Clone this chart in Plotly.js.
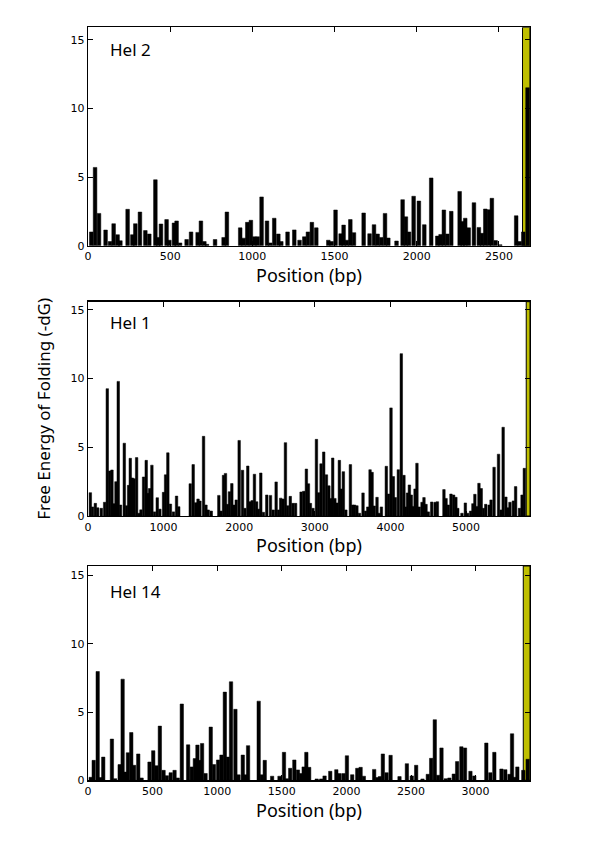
<!DOCTYPE html>
<html>
<head>
<meta charset="utf-8">
<script src="https://cdn.plot.ly/plotly-3.0.1.min.js"></script>
<style>html,body{margin:0;padding:0;background:#fff;}#chart{width:600px;height:854px;}</style>
</head>
<body>
<div id="chart"></div>
<script>
// ---------- Hel 2 ----------
var hel2Pos = [20,43,67,107,134,156,180,197,241,270,288,316,349,373,410,428,444,478,495,523,539,560,600,627,667,687,708,724,773,825,845,926,947,969,991,1012,1032,1056,1089,1109,1133,1158,1176,1214,1255,1287,
  1316,1338,1362,1389,1462,1482,1506,1537,1555,1575,1596,1618,1677,1713,1740,1762,1784,1807,1827,1877,1914,1934,1953,1981,2013,2046,2088,2125,2145,2165,2186,2210,2261,2279,2295,2316,2348,2378,2397,2417,2439,2457,2480,2508,2605,2626,2648,2674];
var hel2Val = [1.0,5.7,2.35,1.14,0.3,1.6,0.8,0.36,2.65,0.8,1.6,2.45,1.1,0.85,4.8,0.6,1.58,1.9,0.4,1.65,1.8,0.2,0.45,1.0,0.97,1.8,0.3,0.1,0.45,0.6,2.45,1.3,0.55,1.7,1.85,0.65,0.65,3.55,1.8,0.2,2.0,0.85,0.3,1.0,1.15,0.4,
  0.65,1.0,1.7,1.3,0.4,0.3,2.6,0.87,1.5,0.4,1.9,0.95,2.38,0.87,1.53,0.85,0.6,2.35,0.56,0.34,3.35,2.1,1.0,3.6,3.25,1.53,4.93,0.7,0.82,2.6,0.85,2.5,3.95,1.77,2.0,1.3,3.13,1.33,0.9,2.67,2.62,3.45,0.37,0.07,2.18,0.3,1.0,11.5];
var hel2HlPos = [2666];
var hel2HlWidth = [45];
var hel2Max = 15.9;
var hel2Len = 2689;
var hel2Ticks = [0,500,1000,1500,2000,2500];

// ---------- Hel 1 ----------
var hel1Pos = [31,60,97,128,176,220,255,286,317,345,370,400,430,480,510,537,559,585,610,643,672,700,735,770,790,815,845,880,916,950,999,1026,1056,1090,1130,1171,1200,1352,1391,1425,1455,1480,1528,1560,1590,1630,1730,1760,1792,1818,1845,1871,1902,1930,1960,1999,2043,2075,2113,2145,2170,2201,2230,2255,2285,2320,2364,2413,2450,2488,2520,2548,2580,2611,2640,2675,2710,2745,2818,2853,2888,2915,2941,2975,
  3021,3050,3082,3117,3153,3185,3210,3236,3265,3295,3324,3350,3377,3410,3470,3500,3525,3556,3590,3637,3670,3700,3730,3757,3785,3822,3850,3880,3945,3975,4007,4038,4064,4104,4143,4178,4200,4225,4250,4275,4300,4325,4350,4380,4417,4443,4470,4500,4545,4590,4620,4707,4735,4765,4800,4835,4865,4890,4945,4990,5020,5060,5090,5116,5145,5170,5200,5230,5260,5305,5330,5370,5429,5464,5490,5526,5555,5580,5625,5655,5706,5740,5770,5820];
var hel1Val = [1.7,0.66,0.92,0.6,0.56,1.0,9.27,3.28,3.35,0.9,2.5,9.8,0.8,5.3,0.75,2.23,4.2,2.77,2.72,4.25,0.2,0.45,2.84,4.05,1.65,2.0,3.7,0.3,1.33,0.5,1.72,3.0,4.6,0.87,0.3,1.45,0.68,2.35,3.74,0.97,1.24,1.09,5.8,0.8,0.44,0.36,1.5,0.36,2.96,3.1,0.85,1.77,2.36,0.8,1.17,5.5,3.33,0.56,3.64,1.04,1.12,3.04,1.04,0.5,3.13,0.27,1.53,1.5,0.44,2.48,0.44,1.3,1.24,5.34,0.75,1.43,0.92,0.92,1.75,1.8,3.42,2.35,0.92,0.56,
  5.58,1.7,3.8,4.66,3.0,2.2,1.28,4.22,1.28,0.95,4.05,1.97,3.23,0.44,3.74,0.8,0.8,0.75,0.2,1.68,0.36,0.66,3.37,3.18,0.73,1.36,0.2,0.66,3.62,1.6,7.87,2.87,1.34,3.37,11.82,2.96,0.66,1.68,2.26,1.53,0.7,1.97,3.84,0.66,1.0,1.34,0.85,0.3,1.02,1.0,1.04,1.92,1.28,0.8,1.6,1.53,1.36,0.56,0.2,0.95,0.2,0.36,0.9,1.58,0.7,2.38,2.0,0.56,0.85,0.8,1.17,3.55,4.5,0.44,6.46,1.38,0.6,1.0,1.1,2.14,0.56,1.53,3.47];
var hel1HlPos = [5820];
var hel1HlWidth = [50];
var hel1Max = 15.6;
var hel1Len = 5845;
var hel1Ticks = [0,1000,2000,3000,4000,5000];

// ---------- Hel 14 ----------
var hel14Pos = [21,44,75,95,118,185,210,245,268,290,309,335,357,389,415,476,505,530,556,585,610,640,670,695,726,775,803,827,847,862,883,910,950,975,1007,1033,1059,1083,1107,1141,1165,1198,1220,1239,1321,1345,1368,1425,1482,1517,1540,1565,1597,1625,1648,1669,1690,1712,
  1770,1805,1831,1875,1922,1948,1979,2004,2045,2084,2110,2135,2215,2240,2259,2282,2311,2342,2411,2468,2506,2540,2589,2630,2656,2684,2710,2736,2769,2797,2831,2857,2890,2918,2960,2990,3083,3114,3145,3200,3230,3262,3282,3300,3323,3369,3403];
var hel14Val = [0.22,1.46,7.97,0.2,1.7,3.02,0.12,1.15,7.41,0.6,2.02,3.5,1.1,1.93,0.17,1.34,2.17,1.07,3.97,0.73,0.34,0.56,0.73,0.17,5.59,2.6,0.98,1.59,2.58,1.46,2.7,0.5,3.9,1.15,1.49,1.85,6.46,1.7,7.22,5.2,0.4,1.85,0.4,2.54,5.8,0.4,1.46,0.3,0.3,2.05,0.12,0.88,1.49,0.76,0.5,0.98,2.05,0.95,
  0.1,0.1,0.32,0.66,0.78,0.49,0.49,1.8,0.41,0.88,0.95,0.3,0.8,0.2,0.27,1.93,0.56,1.83,0.27,1.22,0.32,1.1,0.1,0.44,1.61,4.44,0.37,2.37,0.12,0.17,0.46,1.37,2.46,2.37,0.66,0.32,2.73,0.56,2.05,0.83,0.78,0.44,3.41,0.22,0.98,0.73,1.54];
var hel14HlPos = [3395];
var hel14HlWidth = [52];
var hel14Max = 15.7;
var hel14Len = 3421;
var hel14Ticks = [0,500,1000,1500,2000,2500,3000];

var panelNames = ['Hel 2','Hel 1','Hel 14'];

var highlightColor = '#bfbf00';
var barColor = '#000000';

function hlTrace(pos, w, ymax, ax) {
  return {type:'bar', x:pos, y:pos.map(function(){return ymax;}), width:w,
    marker:{color:highlightColor, line:{color:'#000', width:1}},
    xaxis:'x'+ax, yaxis:'y'+ax, hoverinfo:'skip', showlegend:false};
}
function barTrace(pos, val, w, ax) {
  return {type:'bar', x:pos, y:val, width:w,
    marker:{color:barColor, line:{color:'#000', width:0.5}},
    xaxis:'x'+ax, yaxis:'y'+ax, showlegend:false};
}

var data = [
  hlTrace(hel2HlPos, hel2HlWidth, hel2Max, ''),
  barTrace(hel2Pos, hel2Val, 22, ''),
  hlTrace(hel1HlPos, hel1HlWidth, hel1Max, '2'),
  barTrace(hel1Pos, hel1Val, 33, '2'),
  hlTrace(hel14HlPos, hel14HlWidth, hel14Max, '3'),
  barTrace(hel14Pos, hel14Val, 26, '3')
];

var W = 600, H = 854;
var xDom = [88/W, 530/W];
function yDom(top, bottom){ return [1-bottom/H, 1-top/H]; }

function xAx(range, ticks, anchor) {
  return {domain:xDom, range:range, anchor:anchor, tickvals:ticks, ticktext:ticks.map(String),
    ticks:'inside', ticklen:5, tickwidth:1, tickcolor:'#000',
    showline:true, linecolor:'#000', linewidth:1.3, mirror:'ticks',
    showgrid:false, zeroline:false,
    tickfont:{family:'DejaVu Sans', size:11, color:'#000'},
    title:{text:'Position (bp)', font:{family:'Noto Sans', size:18, color:'#000'}, standoff:2}};
}
function yAx(range, anchor, dom) {
  return {domain:dom, range:range, anchor:anchor, tickvals:[0,5,10,15],
    ticks:'inside', ticklen:5, tickwidth:1, tickcolor:'#000',
    showline:true, linecolor:'#000', linewidth:1.3, mirror:'ticks',
    showgrid:false, zeroline:false,
    tickfont:{family:'DejaVu Sans', size:11, color:'#000'}};
}

var layout = {
  width:W, height:H, margin:{l:0,r:0,t:0,b:0}, paper_bgcolor:'#fff', plot_bgcolor:'#fff',
  barmode:'overlay', bargap:0, showlegend:false,
  xaxis: xAx([0,hel2Len], hel2Ticks, 'y'),
  yaxis: yAx([0,hel2Max], 'x', yDom(27.3,245.7)),
  xaxis2: xAx([0,hel1Len], hel1Ticks, 'y2'),
  yaxis2: yAx([0,hel1Max], 'x2', yDom(301.7,516)),
  xaxis3: xAx([0,hel14Len], hel14Ticks, 'y3'),
  yaxis3: yAx([0,hel14Max], 'x3', yDom(566,780.3)),
  annotations: [
    {text:panelNames[0], xref:'paper', yref:'paper', x:108/W, y:1-49.5/H, xanchor:'left', yanchor:'middle', showarrow:false, font:{family:'Noto Sans', size:17, color:'#000'}},
    {text:panelNames[1], xref:'paper', yref:'paper', x:108/W, y:1-322/H, xanchor:'left', yanchor:'middle', showarrow:false, font:{family:'Noto Sans', size:17, color:'#000'}},
    {text:panelNames[2], xref:'paper', yref:'paper', x:108/W, y:1-591/H, xanchor:'left', yanchor:'middle', showarrow:false, font:{family:'Noto Sans', size:17, color:'#000'}}
  ]
};
layout.yaxis2.title = {text:'Free Energy of Folding (-dG)', font:{family:'Noto Sans', size:17, color:'#000'}, standoff:15};

Plotly.newPlot('chart', data, layout, {displayModeBar:false, staticPlot:true});
</script>
</body>
</html>
